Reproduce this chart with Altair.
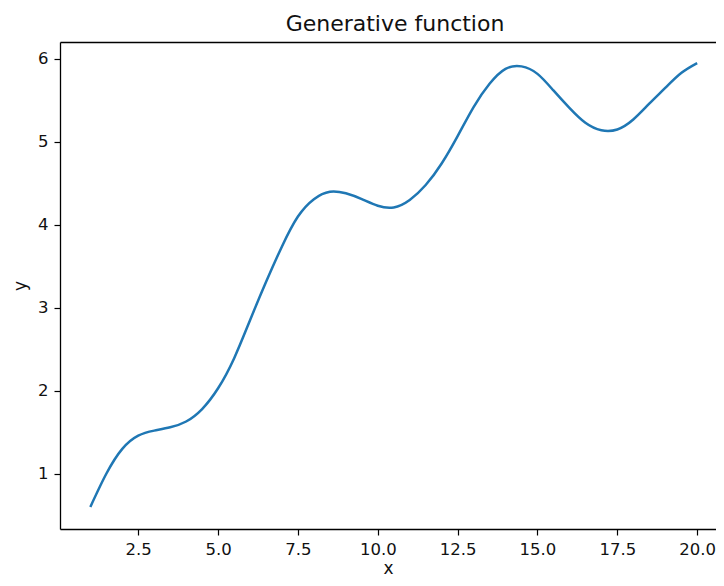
import altair as alt
import pandas as pd

x_vals = [1.0, 1.5, 2.0, 2.5, 3.0, 3.5, 4.0, 4.5, 5.0, 5.5, 6.0, 6.5, 7.0, 7.5,
          8.0, 8.5, 9.0, 9.5, 10.0, 10.5, 11.0, 11.5, 12.0, 12.5, 13.0, 13.5,
          14.0, 14.5, 15.0, 15.5, 16.0, 16.5, 17.0, 17.5, 18.0, 18.5, 19.0,
          19.5, 20.0]
y_vals = [0.60, 1.00, 1.30, 1.46, 1.52, 1.56, 1.63, 1.78, 2.03, 2.39, 2.85,
          3.31, 3.74, 4.10, 4.31, 4.40, 4.38, 4.31, 4.23, 4.21, 4.30, 4.48,
          4.74, 5.07, 5.42, 5.70, 5.88, 5.91, 5.82, 5.62, 5.41, 5.23, 5.14,
          5.15, 5.27, 5.46, 5.65, 5.83, 5.95]
x_ticks = [2.5, 5.0, 7.5, 10.0, 12.5, 15.0, 17.5, 20.0]
y_ticks = [1, 2, 3, 4, 5, 6]

df = pd.DataFrame({"x": x_vals, "y": y_vals})

font = "DejaVu Sans"
txt = "#111111"
xscale = alt.Scale(domain=[0.05, 20.59], nice=False, zero=False)
yscale = alt.Scale(domain=[0.334, 6.204], nice=False, zero=False)

line = alt.Chart(df).mark_line(
    color="#1f77b4", strokeWidth=2.5, interpolate="natural"
).encode(
    x=alt.X("x:Q", scale=xscale,
            axis=alt.Axis(title="x", values=x_ticks, format=".1f", grid=False,
                          domainColor="black", domainWidth=1.3,
                          tickColor="black", tickSize=6, tickWidth=1.2,
                          labelFont=font, labelFontSize=16.5, labelColor=txt,
                          labelPadding=6, titleFont=font, titleFontSize=17,
                          titleFontWeight="normal", titleColor=txt,
                          titlePadding=3, labelFlush=False)),
    y=alt.Y("y:Q", scale=yscale,
            axis=alt.Axis(title="y", values=y_ticks, format="d", grid=False,
                          domainColor="black", domainWidth=1.3,
                          tickColor="black", tickSize=6, tickWidth=1.2,
                          labelFont=font, labelFontSize=16.5, labelColor=txt,
                          labelPadding=6, titleFont=font, titleFontSize=17,
                          titleFontWeight="normal", titleColor=txt,
                          titlePadding=8, labelFlush=False)),
)

top_spine = alt.Chart(df).mark_line(opacity=0).encode(
    x=alt.X("x:Q", scale=xscale,
            axis=alt.Axis(orient="top", labels=False, ticks=False, grid=False,
                          domainColor="black", domainWidth=1.3, title=None)),
)

chart = alt.layer(line, top_spine).resolve_axis(x="independent").properties(
    width=656,
    height=487,
    title=alt.TitleParams("Generative function", font=font, fontSize=22,
                          fontWeight="normal", color=txt, offset=6, dx=7),
    autosize=alt.AutoSizeParams(type="none"),
    padding={"left": 52, "top": 34, "right": 0, "bottom": 49},
).configure_view(
    stroke="transparent"
)

chart.save("out.html", embed_options={"renderer": "svg", "actions": False})
